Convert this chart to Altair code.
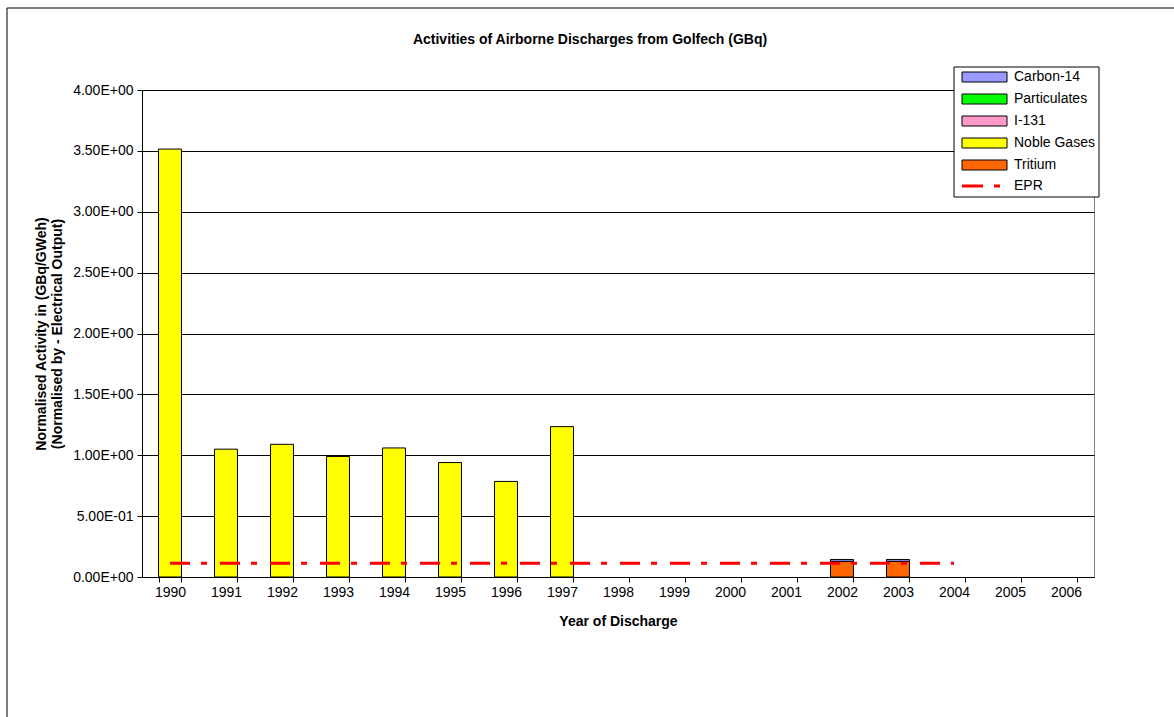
import altair as alt
import pandas as pd

FONT = "Liberation Sans"

chart_title = "Activities of Airborne Discharges from Golfech (GBq)"
x_title = "Year of Discharge"
y_title = ["Normalised Activity in (GBq/GWeh)", "(Normalised by - Electrical Output)"]

years = ["1990", "1991", "1992", "1993", "1994", "1995", "1996", "1997", "1998",
         "1999", "2000", "2001", "2002", "2003", "2004", "2005", "2006"]
carbon14 = [0, 0, 0, 0, 0, 0, 0, 0, 0, 0, 0, 0, 0.016, 0.016, 0, 0, 0]
particulates = [0, 0, 0, 0, 0, 0, 0, 0, 0, 0, 0, 0, 0, 0, 0, 0, 0]
i131 = [0, 0, 0, 0, 0, 0, 0, 0, 0, 0, 0, 0, 0, 0, 0, 0, 0]
noble_gases = [3.515, 1.05, 1.09, 0.99, 1.06, 0.94, 0.785, 1.235, 0, 0, 0, 0, 0, 0, 0, 0, 0]
tritium = [0, 0, 0, 0, 0, 0, 0, 0, 0, 0, 0, 0, 0.128, 0.128, 0, 0, 0]

epr_years = ["1990", "2004"]
epr_values = [0.112, 0.112]

series_names = ["Carbon-14", "Particulates", "I-131", "Noble Gases", "Tritium"]
series_colors = ["#9999FF", "#00FF00", "#FF99CC", "#FFFF00", "#FF6600"]
stack_order = ["Tritium", "Noble Gases", "I-131", "Particulates", "Carbon-14"]
y_ticks = [0, 0.5, 1.0, 1.5, 2.0, 2.5, 3.0, 3.5, 4.0]

series_values = {
    "Carbon-14": carbon14,
    "Particulates": particulates,
    "I-131": i131,
    "Noble Gases": noble_gases,
    "Tritium": tritium,
}

rows = []
for name in series_names:
    for yr, v in zip(years, series_values[name]):
        rows.append({"year": yr, "series": name, "value": v, "rank": stack_order.index(name)})
bars_df = pd.DataFrame(rows)
epr_df = pd.DataFrame({"year": epr_years, "value": epr_values, "series": ["EPR"] * len(epr_years)})

x_scale = alt.Scale(domain=years, paddingInner=0.59, paddingOuter=0.295)
y_scale = alt.Scale(domain=[0, 4], nice=False, zero=True)

x_axis = alt.Axis(
    title=x_title, labelAngle=0, tickBand="extent", tickSize=5, tickColor="black",
    domainColor="black", labelFont=FONT, labelFontSize=14, labelColor="black",
    labelPadding=3, titleFont=FONT, titleFontSize=14, titleFontWeight="bold",
    titleColor="black", titlePadding=15, grid=False,
)
y_axis = alt.Axis(
    values=y_ticks,
    labelExpr="replace(replace(format(datum.value, '.2e'), 'e+', 'E+0'), 'e-', 'E-0')",
    grid=True, gridColor="black", gridWidth=1, gridOpacity=1,
    domainColor="black", tickColor="black", tickSize=5,
    labelFont=FONT, labelFontSize=14, labelColor="black", labelPadding=4,
    title=y_title, titleFont=FONT, titleFontSize=14, titleFontWeight="bold",
    titleColor="black", titlePadding=8, titleLineHeight=16,
)

fill_legend = alt.Legend(
    title=None, orient="none", legendX=818, legendY=-20,
    symbolType="M-1,-1H8V1H-1Z", symbolSize=100,
    symbolStrokeColor="black", symbolStrokeWidth=1,
    labelFont=FONT, labelFontSize=14, labelColor="black",
    labelOffset=40, rowPadding=8, padding=0,
)
line_legend = alt.Legend(
    title=None, orient="none", legendX=818, legendY=89,
    symbolType="M-1,0H8", symbolSize=100, symbolStrokeWidth=3,
    symbolDash=[21, 11, 6, 13],
    labelFont=FONT, labelFontSize=14, labelColor="black",
    labelOffset=40, padding=0,
)

frame_df = pd.DataFrame({"k": [0]})

outer = alt.Chart(frame_df).mark_rect(fill="transparent", stroke="black", strokeWidth=1).encode(
    x=alt.value(-135), x2=alt.value(1045), y=alt.value(-82), y2=alt.value(640)
)

bars = alt.Chart(bars_df).transform_filter("datum.value > 0").mark_bar(
    stroke="black", strokeWidth=1
).encode(
    x=alt.X("year:N", scale=x_scale, axis=x_axis),
    y=alt.Y("value:Q", stack="zero", scale=y_scale, axis=y_axis),
    color=alt.Color("series:N", scale=alt.Scale(domain=series_names, range=series_colors),
                    legend=fill_legend),
    order=alt.Order("rank:Q", sort="ascending"),
)

line = alt.Chart(epr_df).mark_line(strokeWidth=3, strokeDash=[20, 11, 6, 13], strokeCap="butt").encode(
    x=alt.X("year:N", scale=x_scale, axis=x_axis),
    y=alt.Y("value:Q", scale=y_scale, axis=y_axis),
    stroke=alt.Stroke("series:N", scale=alt.Scale(domain=["EPR"], range=["#FF0000"]),
                      legend=line_legend),
)

legend_box = alt.Chart(frame_df).mark_rect(fill="white", stroke="black", strokeWidth=1).encode(
    x=alt.value(812), x2=alt.value(957), y=alt.value(-23), y2=alt.value(107)
)

title_df = pd.DataFrame({"t": [chart_title]})
title_text = alt.Chart(title_df).mark_text(
    font=FONT, fontSize=14, fontWeight="bold", align="center", baseline="middle", color="black"
).encode(x=alt.value(448), y=alt.value(-50), text="t:N")

chart = alt.layer(outer, bars, line, legend_box, title_text).properties(
    width=952, height=487,
    autosize=alt.AutoSizeParams(type="none"),
    padding={"left": 142, "top": 90, "right": 80, "bottom": 140},
    background="white",
).configure_view(stroke="#808080", strokeWidth=1)

chart.save("out.html", embed_options={"renderer": "svg", "actions": False})
